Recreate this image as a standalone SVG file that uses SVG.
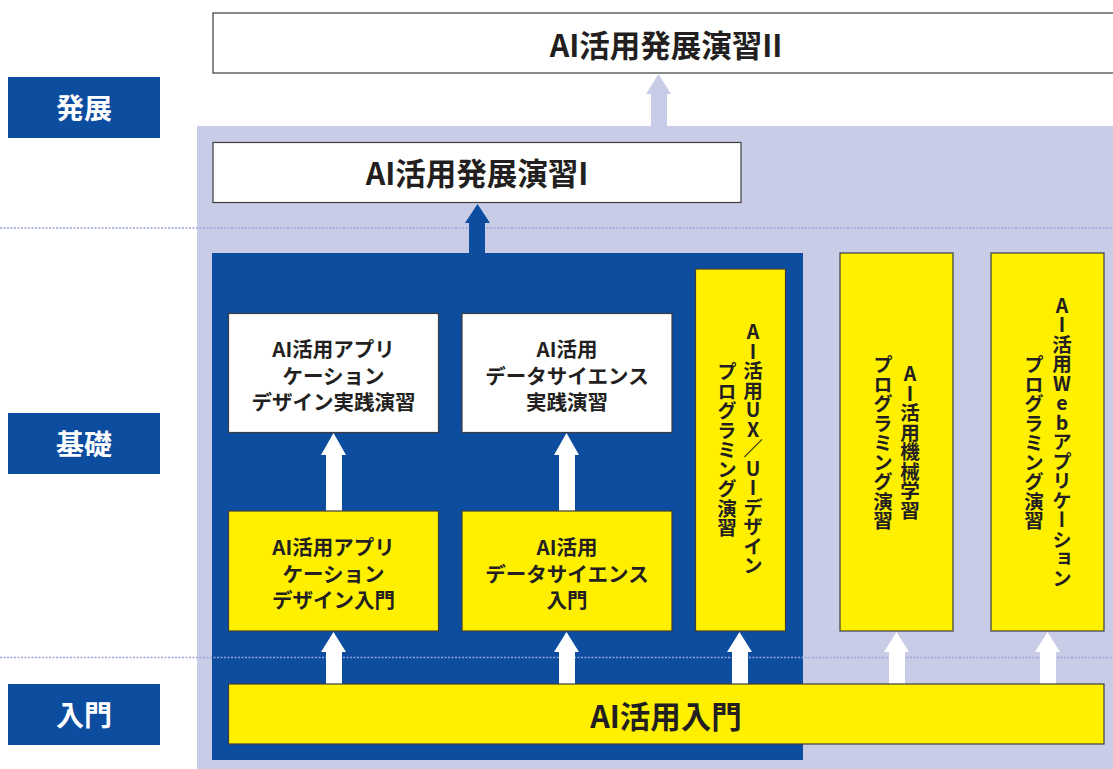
<svg xmlns="http://www.w3.org/2000/svg" width="1113" height="769" viewBox="0 0 1113 769">
<defs>
<style>
.lbl{fill:#0d4da0}
.lbltxt{fill:#fff;font-family:"Noto Sans CJK JP","Noto Sans",sans-serif;font-weight:bold;font-size:28px;text-anchor:middle;dominant-baseline:central}
.wbox{fill:#fff;stroke:#3c3c3c;stroke-width:1.2}
.ybox{fill:#fff000;stroke:#3c3c3c;stroke-width:1.2}
.t{fill:#231f20;font-family:"Noto Sans CJK JP","Noto Sans",sans-serif;font-weight:bold;text-anchor:middle;dominant-baseline:central}
.big{font-size:30.5px}
.sm{font-size:20.5px}
.v{fill:#231f20;font-family:"Noto Sans CJK JP",sans-serif;font-weight:bold;font-size:19.5px;writing-mode:vertical-rl;text-orientation:upright;text-anchor:middle;dominant-baseline:central}
.dot{stroke:#9ba4d9;stroke-width:1.5;stroke-dasharray:2 1.5;fill:none}
</style>
</defs>
<rect width="1113" height="769" fill="#fff"/>
<!-- background areas -->
<rect x="197" y="126" width="916" height="643" fill="#c8cce6"/>
<rect x="212" y="253" width="591" height="507" fill="#0d4da0"/>
<!-- dotted level lines -->
<line class="dot" x1="0" y1="228" x2="1113" y2="228"/>
<line class="dot" x1="0" y1="657.5" x2="1113" y2="657.5"/>

<g id="level-hatten"><rect class="lbl" x="8" y="77" width="152" height="61"/><text class="lbltxt" x="84" y="107">発展</text></g>
<g id="level-kiso"><rect class="lbl" x="8" y="413" width="152" height="61"/><text class="lbltxt" x="84" y="443">基礎</text></g>
<g id="level-nyumon"><rect class="lbl" x="8" y="684" width="152" height="61"/><text class="lbltxt" x="84" y="714">入門</text></g>

<g id="connectors">
<polygon fill="#c8cce6" points="651,126 651,94 646,94 658.5,74 671,94 667,94 667,126"/>
<polygon fill="#0d4da0" points="469,253 469,223 465,223 477.5,204 490,223 485,223 485,253"/>
<g fill="#fff">
<polygon points="326,511 326,455 321,455 333.5,433 346,455 342,455 342,511"/>
<polygon points="559,511 559,455 554,455 566.5,433 579,455 575,455 575,511"/>
<polygon points="326,684 326,652 321,652 333.5,632 346,652 342,652 342,684"/>
<polygon points="559,684 559,652 554,652 566.5,632 579,652 575,652 575,684"/>
<polygon points="732,684 732,652 727,652 739.5,632 752,652 748,652 748,684"/>
<polygon points="889,684 889,652 884,652 896.5,632 909,652 905,652 905,684"/>
<polygon points="1040,684 1040,652 1035,652 1047.5,632 1060,652 1056,652 1056,684"/>
</g>
</g>

<g id="hatten2"><rect class="wbox" x="213" y="13" width="905" height="60"/><text class="t big" x="666" y="44">AI活用発展演習II</text></g>
<g id="hatten1"><rect class="wbox" x="213" y="142.5" width="528" height="60"/><text class="t big" x="477" y="172">AI活用発展演習I</text></g>

<g id="app-jissen"><rect class="wbox" x="228.5" y="313.5" width="210" height="119"/>
<text class="t sm" x="333.5" y="348">AI活用アプリ</text><text class="t sm" x="333.5" y="374.5">ケーション</text><text class="t sm" x="333.5" y="401">デザイン実践演習</text></g>
<g id="ds-jissen"><rect class="wbox" x="462" y="313.5" width="210" height="119"/>
<text class="t sm" x="567" y="348">AI活用</text><text class="t sm" x="567" y="374.5">データサイエンス</text><text class="t sm" x="567" y="401">実践演習</text></g>

<g id="app-nyumon"><rect class="ybox" x="228.5" y="511" width="210" height="120"/>
<text class="t sm" x="333.5" y="546">AI活用アプリ</text><text class="t sm" x="333.5" y="572.5">ケーション</text><text class="t sm" x="333.5" y="599">デザイン入門</text></g>
<g id="ds-nyumon"><rect class="ybox" x="462" y="511" width="210" height="120"/>
<text class="t sm" x="567" y="546">AI活用</text><text class="t sm" x="567" y="572.5">データサイエンス</text><text class="t sm" x="567" y="599">入門</text></g>

<g id="uxui"><rect class="ybox" x="695.5" y="269" width="90" height="362"/>
<text class="v" x="753" y="449">AI活用UX／UIデザイン</text><text class="v" x="727" y="450">プログラミング演習</text></g>
<g id="ml"><rect class="ybox" x="840" y="253" width="113" height="378"/>
<text class="v" x="910" y="442">AI活用機械学習</text><text class="v" x="883" y="443">プログラミング演習</text></g>
<g id="webapp"><rect class="ybox" x="991" y="253" width="113" height="378"/>
<text class="v" x="1062" y="442">AI活用Webアプリケーション</text><text class="v" x="1034" y="443">プログラミング演習</text></g>

<g id="ai-nyumon"><rect class="ybox" x="228.5" y="684" width="875.5" height="60"/><text class="t big" x="666" y="715">AI活用入門</text></g>
</svg>
